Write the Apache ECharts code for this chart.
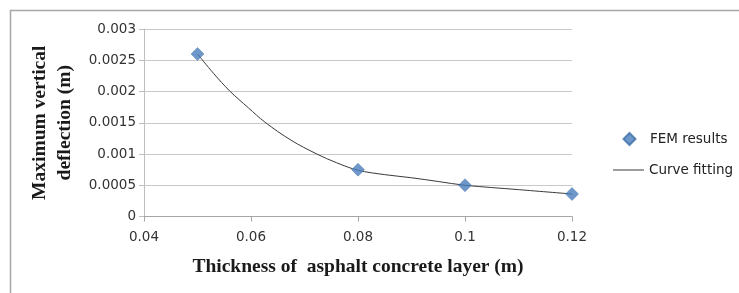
<!DOCTYPE html>
<html>
<head>
<meta charset="utf-8">
<script src="https://cdn.jsdelivr.net/npm/echarts@6/dist/echarts.min.js"></script>
<style>
html,body{margin:0;padding:0;background:#fff;}
#chart{width:739px;height:293px;}
</style>
</head>
<body>
<div id="chart"></div>
<script>
// Data
var femThickness = [0.05, 0.08, 0.10, 0.12];
var femDeflection = [0.0026, 0.00075, 0.0005, 0.00036];

var curveThickness = [0.05, 0.053, 0.056, 0.0595, 0.0626, 0.0675, 0.0723, 0.076, 0.08, 0.085, 0.09, 0.095, 0.10, 0.11, 0.12];
var curveDeflection = [0.0026, 0.00229, 0.00201, 0.00174, 0.00151, 0.00122, 0.00100, 0.00086, 0.00074, 0.00067, 0.00062, 0.00056, 0.00050, 0.00043, 0.00036];

var xTickLabels = ['0.04', '0.06', '0.08', '0.1', '0.12'];
var yTickLabels = ['0', '0.0005', '0.001', '0.0015', '0.002', '0.0025', '0.003'];

var seriesNames = ['FEM results', 'Curve fitting'];
var xTitle = 'Thickness of  asphalt concrete layer (m)';
var yTitle = 'Maximum vertical\ndeflection (m)';

var chart = echarts.init(document.getElementById('chart'), null, {renderer: 'canvas'});

function pairs(xs, ys) {
  return xs.map(function (x, i) { return [x, ys[i]]; });
}

var legendText = {fontFamily: 'DejaVu Sans', fontSize: 13.5, color: '#222'};

var option = {
  backgroundColor: '#ffffff',
  animation: false,
  grid: {left: 144, right: 167, top: 29, bottom: 76.5, containLabel: false},
  legend: [
    {
      left: 613,
      top: 132,
      padding: 0,
      itemWidth: 31,
      itemHeight: 12,
      textStyle: legendText,
      data: [{name: seriesNames[0], icon: 'path://M0,0 M31,12 M15.5,0 L21.5,6 L15.5,12 L9.5,6 Z'}]
    },
    {
      left: 613,
      top: 163,
      padding: 0,
      itemWidth: 31,
      itemHeight: 1,
      textStyle: legendText,
      itemStyle: {color: '#3a3a3a'},
      data: [{name: seriesNames[1], icon: 'rect'}]
    }
  ],
  xAxis: {
    type: 'value',
    min: 0.04,
    max: 0.12,
    interval: 0.02,
    name: xTitle,
    nameLocation: 'middle',
    nameGap: 40,
    nameTextStyle: {fontFamily: 'Liberation Serif', fontWeight: 'bold', fontSize: 19.5, color: '#1a1a1a'},
    axisLine: {show: true, lineStyle: {color: '#a6a6a6', width: 1}},
    axisTick: {show: true, inside: false, length: 5, lineStyle: {color: '#a6a6a6'}},
    splitLine: {show: false},
    axisLabel: {
      margin: 14,
      fontFamily: 'DejaVu Sans', fontSize: 13.5, color: '#333',
      formatter: function (v) { return xTickLabels[Math.round((v - 0.04) / 0.02)]; }
    }
  },
  yAxis: {
    type: 'value',
    min: 0,
    max: 0.003,
    interval: 0.0005,
    name: yTitle,
    nameLocation: 'middle',
    nameGap: 60,
    nameRotate: 90,
    nameTextStyle: {fontFamily: 'Liberation Serif', fontWeight: 'bold', fontSize: 19.5, lineHeight: 25, color: '#1a1a1a', align: 'center'},
    axisLine: {show: true, lineStyle: {color: '#bfbfbf', width: 1}},
    axisTick: {show: true, inside: false, length: 5, lineStyle: {color: '#bfbfbf'}},
    splitLine: {show: true, lineStyle: {color: '#c8c8c8', width: 1}},
    axisLabel: {
      margin: 8,
      fontFamily: 'DejaVu Sans', fontSize: 13.5, color: '#333',
      formatter: function (v) { return yTickLabels[Math.round(v / 0.0005)]; }
    }
  },
  series: [
    {
      name: seriesNames[0],
      type: 'scatter',
      symbol: 'diamond',
      symbolSize: 13,
      itemStyle: {color: '#4a7ebb', borderColor: '#3d6fa8', borderWidth: 0.5},
      z: 3,
      data: pairs(femThickness, femDeflection)
    },
    {
      name: seriesNames[1],
      type: 'line',
      showSymbol: false,
      symbol: 'none',
      smooth: 0.35,
      lineStyle: {color: '#3a3a3a', width: 1},
      itemStyle: {color: '#3a3a3a'},
      z: 2,
      data: pairs(curveThickness, curveDeflection)
    }
  ],
  graphic: [
    {
      type: 'polyline',
      silent: true,
      shape: {points: [[10.5, 300], [10.5, 10.5], [745, 10.5]]},
      style: {stroke: '#a6a6a6', lineWidth: 1.5, fill: null}
    }
  ]
};

chart.setOption(option);
</script>
</body>
</html>
